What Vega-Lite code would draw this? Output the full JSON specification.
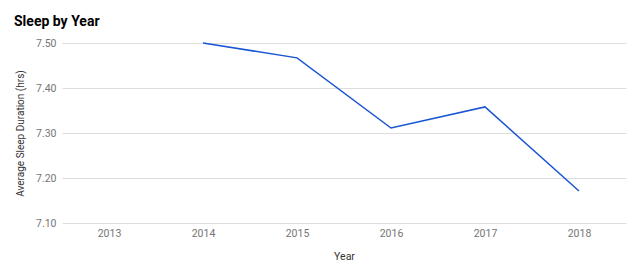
{
  "$schema": "https://vega.github.io/schema/vega-lite/v6.json",
  "width": 564,
  "height": 180,
  "autosize": {"type": "none"},
  "padding": {"left": 62, "top": 43, "right": 14, "bottom": 55},
  "background": "white",
  "title": {
    "text": "Sleep by Year",
    "anchor": "start",
    "frame": "group",
    "dx": -48,
    "offset": 9,
    "font": "Roboto",
    "fontSize": 14,
    "fontWeight": "bold",
    "color": "#000000"
  },
  "config": {
    "view": {"stroke": null},
    "font": "Roboto"
  },
  "data": {
    "values": [
      {"Year": "2013", "Sleep": null},
      {"Year": "2014", "Sleep": 7.500},
      {"Year": "2015", "Sleep": 7.467},
      {"Year": "2016", "Sleep": 7.311},
      {"Year": "2017", "Sleep": 7.358},
      {"Year": "2018", "Sleep": 7.171}
    ]
  },
  "mark": {"type": "line", "color": "#1a56d3", "strokeWidth": 1.5},
  "encoding": {
    "x": {
      "field": "Year",
      "type": "ordinal",
      "scale": {"type": "point", "domain": ["2013", "2014", "2015", "2016", "2017", "2018"], "padding": 0.5},
      "axis": {
        "title": "Year",
        "labelAngle": 0,
        "ticks": false,
        "domain": false,
        "grid": false,
        "labelFont": "Roboto",
        "labelFontSize": 10.5,
        "labelColor": "#757575",
        "labelPadding": 5,
        "titleFont": "Roboto",
        "titleFontSize": 10.5,
        "titleFontWeight": "normal",
        "titleColor": "#333333",
        "titlePadding": 13
      }
    },
    "y": {
      "field": "Sleep",
      "type": "quantitative",
      "scale": {"domain": [7.1, 7.5], "zero": false, "nice": false},
      "axis": {
        "title": "Average Sleep Duration (hrs)",
        "values": [7.1, 7.2, 7.3, 7.4, 7.5],
        "format": ".2f",
        "ticks": false,
        "domain": false,
        "grid": true,
        "gridColor": "#dddddd",
        "gridWidth": 1,
        "labelFont": "Roboto",
        "labelFontSize": 10.5,
        "labelColor": "#757575",
        "labelPadding": 6,
        "titleFont": "Roboto",
        "titleFontSize": 10,
        "titleFontWeight": "normal",
        "titleColor": "#333333",
        "titlePadding": 10
      }
    }
  }
}
